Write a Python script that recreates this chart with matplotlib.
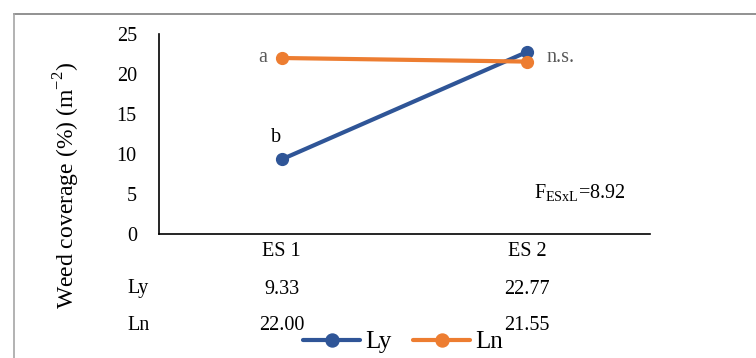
import matplotlib
matplotlib.use('Agg')
import matplotlib.pyplot as plt
from matplotlib.lines import Line2D
from matplotlib.transforms import blended_transform_factory

plt.rcParams['font.family'] = ['Liberation Serif', 'DejaVu Serif']
plt.rcParams['mathtext.fontset'] = 'custom'
plt.rcParams['mathtext.rm'] = 'Liberation Serif'

seasons = ['ES 1', 'ES 2']
series_names = ['Ly', 'Ln']
ly_values = [9.33, 22.77]
ln_values = [22.00, 21.55]
yticks = [0, 5, 10, 15, 20, 25]

blue = '#2F5597'
orange = '#ED7D31'
W, H = 756, 358

fig = plt.figure(figsize=(W / 100, H / 100), dpi=100)
ax = fig.add_axes([159 / W, 1 - 234 / H, (650 - 159) / W, (234 - 34) / H])

x = list(range(len(seasons)))
ax.plot(x, ly_values, color=blue, lw=3, marker='o', ms=8.5, label=series_names[0],
        solid_capstyle='round')
ax.plot(x, ln_values, color=orange, lw=3, marker='o', ms=8.5, label=series_names[1],
        solid_capstyle='round')

ax.set_xlim(-0.5, 1.5)
ax.set_ylim(0, 25)
ax.set_yticks(yticks)
ax.set_xticks([])
ax.tick_params(axis='y', length=0, pad=16, labelsize=14.5)
for s in ['top', 'right']:
    ax.spines[s].set_visible(False)
for s in ['left', 'bottom']:
    ax.spines[s].set_linewidth(1.2)
    ax.spines[s].set_color('black')

fig.text(67 / W, 1 - 185 / H, 'Weed coverage (%) (m$^{-2}$)', fontsize=17,
         rotation=90, ha='center', va='center')

# significance letters
ax.text(-0.06, ln_values[0], 'a', color='#595959', fontsize=14.5, ha='right', va='center')
ax.text(-0.025, ly_values[0] + 1.5, 'b', color='black', fontsize=14.5, ha='center', va='bottom')
ax.text(1.077, 22.1, 'n.s.', color='#595959', fontsize=14.5, ha='left', va='center')
ax.text(1.399, 5.1, 'F$_{\\mathrm{ESxL}}$=8.92', fontsize=14.5, ha='right', va='center')

# data table under the axis
tr = blended_transform_factory(ax.transData, fig.transFigure)
for i, name in enumerate(seasons):
    ax.text(i, 1 - 252 / H, name, transform=tr, ha='center', va='center', fontsize=14.5)
    ax.text(i, 1 - 289 / H, f'{ly_values[i]:.2f}', transform=tr, ha='center', va='center',
            fontsize=14.5)
    ax.text(i, 1 - 326 / H, f'{ln_values[i]:.2f}', transform=tr, ha='center', va='center',
            fontsize=14.5)
fig.text(127 / W, 1 - 289 / H, series_names[0], ha='left', va='center', fontsize=14.5)
fig.text(127 / W, 1 - 326 / H, series_names[1], ha='left', va='center', fontsize=14.5)

fig.legend(loc='center', bbox_to_anchor=(403 / W, 1 - 342 / H), ncol=2, frameon=False,
           fontsize=18, handlelength=2.3, handletextpad=0.2, columnspacing=0.85,
           borderpad=0, borderaxespad=0, markerscale=1.1)

# outer frame
fig.add_artist(Line2D([14 / W, 1], [1 - 14 / H, 1 - 14 / H], color='#7f7f7f', lw=1.2))
fig.add_artist(Line2D([14 / W, 14 / W], [0, 1 - 14 / H], color='#a6a6a6', lw=1.2))

fig.savefig('out.png', dpi=100)
